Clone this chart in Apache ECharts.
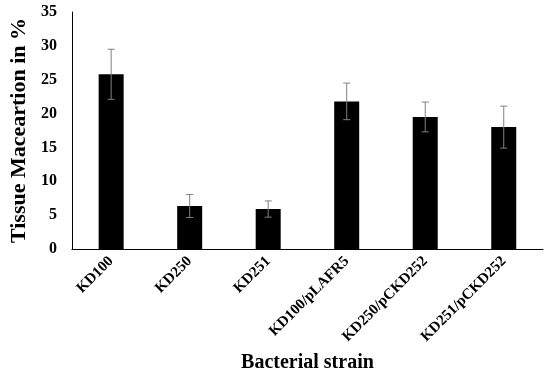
<!DOCTYPE html>
<html><head><meta charset="utf-8">
<script src="https://cdn.jsdelivr.net/npm/echarts@6/dist/echarts.min.js"></script>
<style>html,body{margin:0;padding:0;background:#fff}#c{width:550px;height:380px}</style>
</head><body><div id="c"></div>
<script>
var categories = ['KD100','KD250','KD251','KD100/pLAFR5','KD250/pCKD252','KD251/pCKD252'];
var values = [25.8, 6.35, 5.9, 21.8, 19.5, 18.0];
var errors = [3.7, 1.7, 1.2, 2.7, 2.2, 3.1];
var yTicks = [0,5,10,15,20,25,30,35];

var font = '"Liberation Serif","Times New Roman",serif';
var chart = echarts.init(document.getElementById('c'));
var errData = values.map(function(v,i){return [i, v - errors[i], v + errors[i]];});
chart.setOption({
  animation:false,
  grid:{left:68,right:7,top:12,bottom:131,containLabel:false},
  xAxis:{type:'category',data:categories,
    axisLine:{lineStyle:{color:'#000',width:1}},
    axisTick:{show:false},
    axisLabel:{rotate:45,interval:0,margin:10,color:'#000',fontFamily:font,fontWeight:'bold',fontSize:15},
    name:'Bacterial strain',nameLocation:'middle',nameGap:104,
    nameTextStyle:{color:'#000',fontFamily:font,fontWeight:'bold',fontSize:20}
  },
  yAxis:{type:'value',min:yTicks[0],max:yTicks[yTicks.length-1],interval:5,
    axisLine:{show:true,lineStyle:{color:'#000',width:1}},
    axisTick:{show:false},splitLine:{show:false},
    axisLabel:{margin:15,color:'#000',fontFamily:font,fontWeight:'bold',fontSize:16},
    name:'Tissue Maceartion in %',nameLocation:'middle',nameGap:34,
    nameTextStyle:{color:'#000',fontFamily:font,fontWeight:'bold',fontSize:22}
  },
  series:[
    {type:'bar',data:values,barWidth:25,itemStyle:{color:'#000'}},
    {type:'custom',data:errData,z:10,
     renderItem:function(params,api){
       var x=api.value(0), lo=api.coord([x,api.value(1)]), hi=api.coord([x,api.value(2)]);
       var w=3.5, st={stroke:'#808080',lineWidth:1};
       return {type:'group',children:[
         {type:'line',shape:{x1:hi[0],y1:hi[1],x2:lo[0],y2:lo[1]},style:st},
         {type:'line',shape:{x1:hi[0]-w,y1:hi[1],x2:hi[0]+w,y2:hi[1]},style:st},
         {type:'line',shape:{x1:lo[0]-w,y1:lo[1],x2:lo[0]+w,y2:lo[1]},style:st}
       ]};
     }}
  ]
});
</script></body></html>
